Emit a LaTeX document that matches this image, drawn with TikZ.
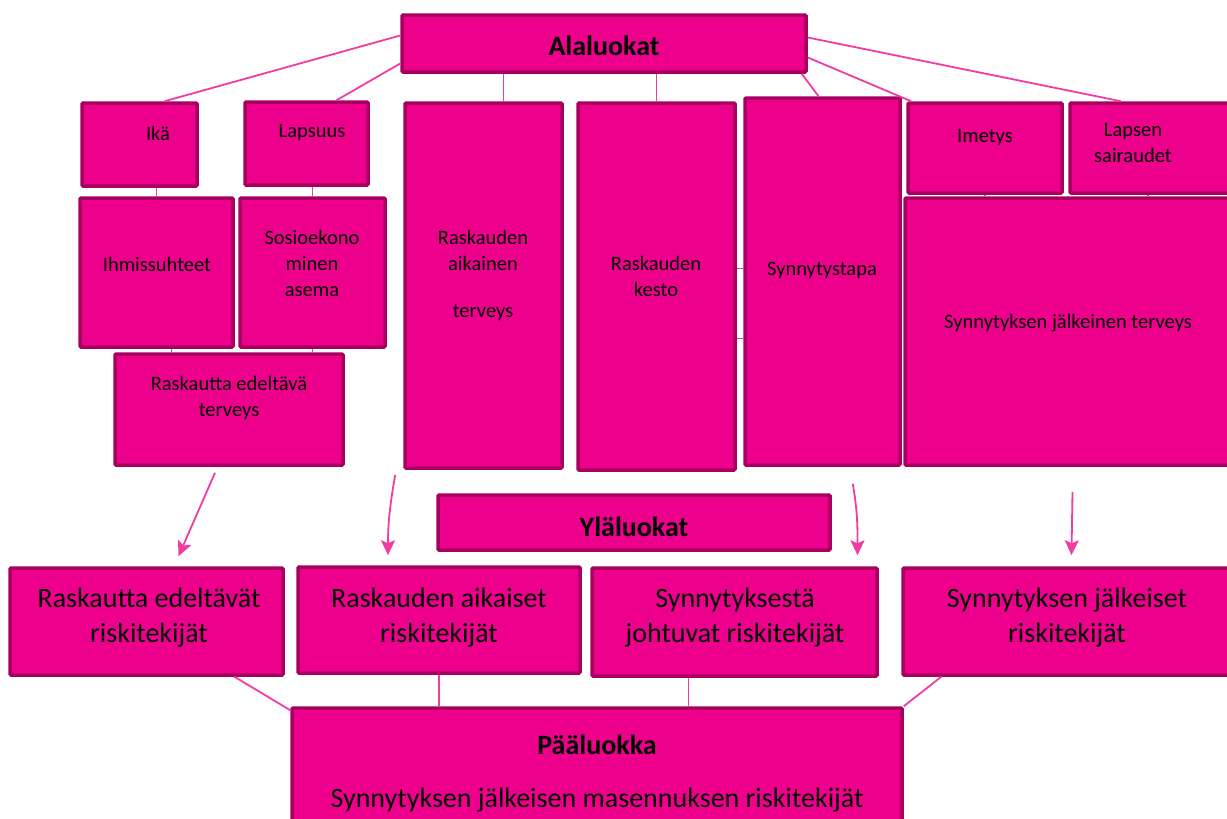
\documentclass[tikz,border=0pt]{standalone}
\usepackage{fontspec}
\setmainfont{Carlito}
\usepackage{tikz}
\usetikzlibrary{arrows.meta}

\definecolor{boxfill}{HTML}{EC008C}
\definecolor{boxline}{HTML}{A8005F}
\definecolor{linkpink}{HTML}{F23CA2}

\tikzset{
	luokka/.style={draw=boxline, fill=boxfill, line width=3.5pt, rounded corners=1pt, inner sep=0pt},
	pieni/.style={align=center, font=\fontsize{20.5}{26}\selectfont},
	iso/.style={align=center, font=\fontsize{28}{35}\selectfont},
	otsikko/.style={font=\fontsize{28}{32}\selectfont\bfseries},
	yhteys/.style={draw=linkpink, line width=1.8pt},
	nuoli/.style={yhteys, -{Stealth[width=14pt,length=15pt,inset=3pt]}}
}

\begin{document}
\begin{tikzpicture}[x=1pt,y=-1pt]
	\useasboundingbox (0,0) rectangle (1227,819);
	
	% alaluokat
	\node[luokka, minimum width=404pt, minimum height=57pt] (ala) at (604,43.5) {};
	\node[luokka, minimum width=115pt, minimum height=83pt] (ika) at (139.5,144.5) {};
	\node[luokka, minimum width=123pt, minimum height=83pt] (lapsuus) at (306.5,143.5) {};
	\node[luokka, minimum width=157pt, minimum height=365pt] (raskaik) at (483.5,285.5) {};
	\node[luokka, minimum width=157pt, minimum height=367pt] (kesto) at (656.5,286.5) {};
	\node[luokka, minimum width=155pt, minimum height=367pt] (tapa) at (822.5,281.5) {};
	\node[luokka, minimum width=154pt, minimum height=90pt] (imetys) at (985,148) {};
	\node[luokka, minimum width=162pt, minimum height=90pt] (lapsair) at (1151,148) {};
	\node[luokka, minimum width=327pt, minimum height=267pt] (jalk) at (1068.5,331.5) {};
	\node[luokka, minimum width=153pt, minimum height=149pt] (ihmis) at (156.5,272.5) {};
	\node[luokka, minimum width=145pt, minimum height=149pt] (sosio) at (312.5,272.5) {};
	\node[luokka, minimum width=228pt, minimum height=111pt] (edelt) at (229,409.5) {};
	
	% ylaluokat
	\node[luokka, minimum width=392pt, minimum height=55pt] (yla) at (634,522.5) {};
	\node[luokka, minimum width=273pt, minimum height=107pt] (r1) at (146.5,621.5) {};
	\node[luokka, minimum width=282pt, minimum height=106pt] (r2) at (439,620) {};
	\node[luokka, minimum width=285pt, minimum height=108pt] (r3) at (734.5,622) {};
	\node[luokka, minimum width=329pt, minimum height=107pt] (r4) at (1067.5,621.5) {};
	
	% paaluokka
	\node[luokka, minimum width=610pt, minimum height=132pt] (paa) at (597,774) {};
	
	% tekstit
	\node[otsikko] (ala-t) at (604,46) {Alaluokat};
	\node[pieni] (ika-t) at (158,133) {Ikä};
	\node[pieni] (lapsuus-t) at (312,133) {Lapsuus};
	\node[pieni, anchor=north] (raskaik-t) at (483,227) {Raskauden\\aikainen\\[21pt]terveys};
	\node[pieni] (kesto-t) at (656,276) {Raskauden\\kesto};
	\node[pieni] (tapa-t) at (822,270) {Synnytystapa};
	\node[pieni] (imetys-t) at (985,138) {Imetys};
	\node[pieni] (lapsair-t) at (1133,143) {Lapsen\\sairaudet};
	\node[pieni] (jalk-t) at (1068,323) {Synnytyksen jälkeinen terveys};
	\node[pieni] (ihmis-t) at (157,264) {Ihmissuhteet};
	\node[pieni] (sosio-t) at (312,263) {Sosioekono\\minen\\asema};
	\node[pieni] (edelt-t) at (229,398) {Raskautta edeltävä\\terveys};
	\node[otsikko] (yla-t) at (634,527) {Yläluokat};
	\node[iso] (r1-t) at (149,618) {Raskautta edeltävät\\riskitekijät};
	\node[iso] (r2-t) at (439,618) {Raskauden aikaiset\\riskitekijät};
	\node[iso] (r3-t) at (735,618) {Synnytyksestä\\johtuvat riskitekijät};
	\node[iso] (r4-t) at (1067,618) {Synnytyksen jälkeiset\\riskitekijät};
	\node[otsikko] (paa-t) at (597,745) {Pääluokka};
	\node[iso] (paa-s) at (597,800) {Synnytyksen jälkeisen masennuksen riskitekijät};
	
	% yhteydet
	\draw[yhteys] ([yshift=8pt]ala.west) -- ([xshift=25pt]ika.north);
	\draw[yhteys] ([yshift=-20pt]ala.west) -- ([xshift=30pt]lapsuus.north);
	\draw[yhteys] ([xshift=20pt]raskaik.north |- ala.south) -- ([xshift=20pt]raskaik.north);
	\draw[yhteys] (kesto.north |- ala.south) -- (kesto.north);
	\draw[yhteys] ([xshift=-6pt]ala.south east) -- ([xshift=-4pt]tapa.north);
	\draw[yhteys] ([yshift=-14pt]ala.east) -- ([xshift=5pt]imetys.north west);
	\draw[yhteys] ([yshift=6pt]ala.east) -- ([xshift=-30pt]lapsair.north);
	\draw[yhteys] (ihmis.north |- ika.south) -- (ihmis.north);
	\draw[yhteys] (sosio.north |- lapsuus.south) -- (sosio.north);
	\draw[yhteys] ([xshift=15pt]ihmis.south) -- ([xshift=15pt]ihmis.south |- edelt.north);
	\draw[yhteys] (sosio.south) -- (sosio.south |- edelt.north);
	\draw[yhteys] ([yshift=18pt]kesto.east) -- ([yshift=18pt]kesto.east -| tapa.west);
	\draw[yhteys] ([yshift=-52pt]kesto.east) -- ([yshift=-52pt]kesto.east -| tapa.west);
	\draw[yhteys] (imetys.south) -- (imetys.south |- jalk.north);
	\draw[yhteys] ([xshift=-3pt]lapsair.south) -- ([xshift=-3pt]lapsair.south |- jalk.north);
	
	\draw[nuoli] ([xshift=-14pt,yshift=-6pt]edelt.south) -- ([xshift=32pt,yshift=10pt]r1.north);
	\draw[nuoli] ([xshift=-8pt,yshift=-5pt]raskaik.south west) to[out=-100,in=90] ([xshift=-51pt,yshift=10pt]r2.north);
	\draw[nuoli] ([xshift=-49pt,yshift=-17pt]tapa.south east) to[out=-80,in=90] ([xshift=123pt,yshift=11pt]r3.north);
	\draw[nuoli] ([xshift=4pt,yshift=-25pt]jalk.south) -- ([xshift=4pt,yshift=11pt]r4.north);
	
	\draw[yhteys] ([xshift=88pt]r1.south) -- ([yshift=-4pt]paa.north west);
	\draw[yhteys] (r2.south) -- (r2.south |- paa.north);
	\draw[yhteys] ([xshift=-46pt]r3.south) -- ([xshift=-46pt]r3.south |- paa.north);
	\draw[yhteys] ([xshift=40pt]r4.south west) -- (paa.north east);
\end{tikzpicture}
\end{document}
